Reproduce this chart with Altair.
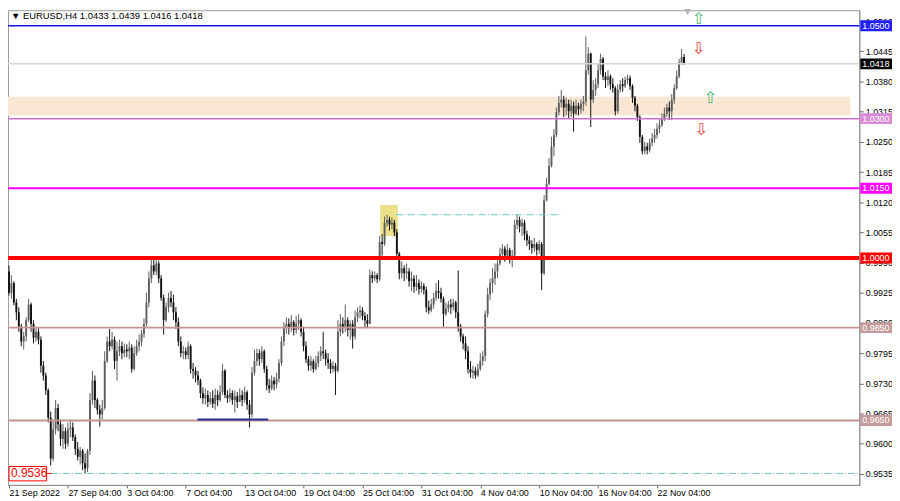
import altair as alt
import pandas as pd

# ---------------- data (EURUSD, H4) ----------------
open_first = 0.9971
close = [
    0.9925,0.9946,0.9904,0.9883,0.9852,0.9820,0.9831,0.9866,0.9900,0.9858,0.9828,0.9841,
    0.9824,0.9768,0.9747,0.9715,0.9656,0.9568,0.9631,0.9677,0.9642,0.9610,0.9627,0.9600,
    0.9631,0.9635,0.9614,0.9589,0.9572,0.9585,0.9558,0.9547,0.9585,0.9694,0.9736,0.9694,
    0.9673,0.9663,0.9677,0.9778,0.9820,0.9810,0.9824,0.9778,0.9799,0.9810,0.9795,0.9803,
    0.9799,0.9807,0.9761,0.9795,0.9810,0.9820,0.9837,0.9858,0.9904,0.9956,0.9984,0.9971,
    0.9988,0.9956,0.9914,0.9866,0.9894,0.9914,0.9904,0.9883,0.9862,0.9820,0.9795,0.9799,
    0.9791,0.9810,0.9761,0.9757,0.9747,0.9736,0.9709,0.9698,0.9705,0.9690,0.9698,0.9686,
    0.9705,0.9694,0.9711,0.9757,0.9705,0.9698,0.9709,0.9694,0.9702,0.9690,0.9705,0.9694,
    0.9711,0.9684,0.9663,0.9753,0.9778,0.9795,0.9782,0.9799,0.9761,0.9726,0.9719,0.9736,
    0.9728,0.9740,0.9774,0.9820,0.9852,0.9858,0.9849,0.9862,0.9845,0.9858,0.9866,0.9841,
    0.9810,0.9782,0.9768,0.9778,0.9761,0.9774,0.9789,0.9799,0.9795,0.9782,0.9774,0.9761,
    0.9768,0.9757,0.9841,0.9858,0.9852,0.9866,0.9845,0.9858,0.9831,0.9872,0.9883,0.9887,
    0.9875,0.9866,0.9858,0.9963,0.9956,0.9963,0.9954,1.0034,1.0030,1.0076,1.0082,1.0072,
    1.0076,1.0055,1.0009,0.9967,0.9978,0.9967,0.9971,0.9950,0.9956,0.9938,0.9946,0.9933,
    0.9940,0.9931,0.9894,0.9887,0.9900,0.9914,0.9929,0.9925,0.9912,0.9879,0.9891,0.9900,
    0.9894,0.9904,0.9883,0.9852,0.9831,0.9816,0.9799,0.9761,0.9753,0.9757,0.9747,0.9761,
    0.9778,0.9789,0.9879,0.9921,0.9946,0.9956,0.9971,0.9988,1.0009,1.0020,1.0005,1.0017,
    0.9999,1.0005,1.0072,1.0082,1.0068,1.0076,1.0051,1.0038,1.0030,1.0022,1.0030,1.0017,
    1.0030,0.9967,1.0124,1.0160,1.0198,1.0240,1.0265,1.0314,1.0334,1.0341,1.0324,1.0332,
    1.0316,1.0328,1.0311,1.0328,1.0320,1.0332,1.0337,1.0404,1.0440,1.0341,1.0362,1.0374,
    1.0404,1.0429,1.0391,1.0383,1.0391,1.0374,1.0366,1.0316,1.0362,1.0374,1.0370,1.0383,
    1.0387,1.0370,1.0345,1.0328,1.0303,1.0261,1.0230,1.0240,1.0232,1.0248,1.0257,1.0265,
    1.0278,1.0286,1.0299,1.0311,1.0324,1.0316,1.0341,1.0366,1.0391,1.0421,1.0433,1.0418,
]
high = [
    0.9984,0.9963,0.9950,0.9912,0.9894,0.9858,0.9841,0.9872,0.9912,0.9904,0.9866,0.9852,
    0.9849,0.9831,0.9778,0.9753,0.9719,0.9669,0.9652,0.9694,0.9686,0.9652,0.9642,0.9635,
    0.9646,0.9652,0.9646,0.9620,0.9604,0.9593,0.9589,0.9579,0.9589,0.9709,0.9757,0.9747,
    0.9698,0.9684,0.9694,0.9799,0.9831,0.9847,0.9841,0.9831,0.9820,0.9824,0.9820,0.9816,
    0.9814,0.9820,0.9814,0.9810,0.9824,0.9835,0.9845,0.9870,0.9925,0.9971,0.9999,0.9996,
    0.9999,0.9994,0.9963,0.9921,0.9904,0.9925,0.9929,0.9921,0.9894,0.9872,0.9831,0.9810,
    0.9807,0.9820,0.9814,0.9774,0.9765,0.9757,0.9740,0.9721,0.9719,0.9715,0.9711,0.9715,
    0.9719,0.9715,0.9726,0.9772,0.9761,0.9715,0.9719,0.9715,0.9715,0.9711,0.9719,0.9715,
    0.9723,0.9715,0.9694,0.9765,0.9803,0.9805,0.9803,0.9810,0.9803,0.9768,0.9740,0.9747,
    0.9744,0.9753,0.9782,0.9831,0.9862,0.9872,0.9870,0.9877,0.9866,0.9875,0.9879,0.9870,
    0.9852,0.9820,0.9789,0.9789,0.9782,0.9789,0.9799,0.9810,0.9841,0.9803,0.9795,0.9782,
    0.9778,0.9774,0.9866,0.9879,0.9872,0.9900,0.9872,0.9866,0.9866,0.9887,0.9894,0.9898,
    0.9894,0.9883,0.9879,0.9975,0.9971,0.9971,0.9967,1.0047,1.0051,1.0089,1.0093,1.0089,
    1.0087,1.0082,1.0062,1.0013,0.9992,0.9984,0.9988,0.9978,0.9971,0.9963,0.9963,0.9954,
    0.9950,0.9946,0.9938,0.9908,0.9912,0.9925,0.9946,0.9952,0.9936,0.9917,0.9904,0.9908,
    0.9912,0.9912,0.9908,0.9973,0.9858,0.9837,0.9831,0.9810,0.9778,0.9768,0.9765,0.9772,
    0.9795,0.9799,0.9887,0.9936,0.9956,0.9978,0.9988,0.9999,1.0022,1.0030,1.0026,1.0030,
    1.0022,1.0017,1.0082,1.0093,1.0089,1.0085,1.0082,1.0059,1.0047,1.0038,1.0043,1.0034,
    1.0038,1.0034,1.0135,1.0173,1.0215,1.0261,1.0278,1.0324,1.0349,1.0362,1.0349,1.0345,
    1.0341,1.0341,1.0337,1.0341,1.0334,1.0341,1.0349,1.0477,1.0454,1.0442,1.0383,1.0387,
    1.0418,1.0440,1.0433,1.0400,1.0404,1.0395,1.0387,1.0370,1.0374,1.0383,1.0387,1.0391,
    1.0395,1.0393,1.0374,1.0349,1.0332,1.0307,1.0265,1.0250,1.0248,1.0257,1.0269,1.0278,
    1.0290,1.0299,1.0311,1.0324,1.0332,1.0337,1.0353,1.0374,1.0404,1.0429,1.0450,1.0439,
]
low = [
    0.9919,0.9912,0.9898,0.9866,0.9841,0.9810,0.9803,0.9820,0.9862,0.9841,0.9816,0.9820,
    0.9814,0.9753,0.9736,0.9705,0.9646,0.9553,0.9562,0.9620,0.9627,0.9595,0.9589,0.9589,
    0.9593,0.9614,0.9606,0.9576,0.9564,0.9555,0.9543,0.9536,0.9539,0.9576,0.9684,0.9677,
    0.9663,0.9637,0.9652,0.9673,0.9774,0.9799,0.9803,0.9761,0.9736,0.9789,0.9782,0.9786,
    0.9786,0.9782,0.9753,0.9757,0.9789,0.9799,0.9810,0.9828,0.9852,0.9894,0.9946,0.9963,
    0.9963,0.9946,0.9908,0.9835,0.9862,0.9883,0.9894,0.9866,0.9847,0.9810,0.9786,0.9782,
    0.9782,0.9782,0.9751,0.9740,0.9732,0.9726,0.9698,0.9686,0.9684,0.9679,0.9684,0.9677,
    0.9673,0.9681,0.9690,0.9705,0.9698,0.9688,0.9690,0.9684,0.9667,0.9677,0.9690,0.9681,
    0.9688,0.9673,0.9635,0.9656,0.9747,0.9768,0.9768,0.9774,0.9753,0.9715,0.9709,0.9715,
    0.9715,0.9719,0.9732,0.9768,0.9810,0.9837,0.9835,0.9841,0.9833,0.9837,0.9845,0.9831,
    0.9799,0.9774,0.9757,0.9757,0.9753,0.9757,0.9765,0.9778,0.9782,0.9768,0.9761,0.9751,
    0.9753,0.9705,0.9753,0.9831,0.9837,0.9841,0.9831,0.9824,0.9805,0.9824,0.9862,0.9870,
    0.9866,0.9852,0.9849,0.9858,0.9946,0.9950,0.9946,0.9950,1.0005,1.0026,1.0068,1.0059,
    1.0062,1.0047,1.0001,0.9954,0.9956,0.9950,0.9954,0.9938,0.9929,0.9925,0.9929,0.9921,
    0.9925,0.9921,0.9883,0.9879,0.9883,0.9891,0.9908,0.9912,0.9904,0.9852,0.9875,0.9883,
    0.9879,0.9887,0.9870,0.9841,0.9820,0.9803,0.9782,0.9751,0.9742,0.9740,0.9740,0.9744,
    0.9757,0.9768,0.9778,0.9872,0.9910,0.9925,0.9942,0.9956,0.9984,0.9996,0.9992,0.9999,
    0.9988,0.9980,0.9999,1.0062,1.0055,1.0047,1.0038,1.0026,1.0017,1.0009,1.0013,1.0005,
    1.0009,0.9931,0.9963,1.0122,1.0156,1.0195,1.0219,1.0260,1.0307,1.0324,1.0303,1.0307,
    1.0299,1.0303,1.0272,1.0307,1.0307,1.0311,1.0316,1.0328,1.0395,1.0282,1.0334,1.0349,
    1.0366,1.0395,1.0383,1.0366,1.0370,1.0362,1.0356,1.0307,1.0311,1.0356,1.0358,1.0366,
    1.0374,1.0362,1.0334,1.0316,1.0295,1.0248,1.0223,1.0223,1.0223,1.0227,1.0240,1.0248,
    1.0257,1.0269,1.0282,1.0295,1.0303,1.0297,1.0297,1.0332,1.0362,1.0387,1.0416,1.0416,
]

x_labels = ["21 Sep 2022", "27 Sep 04:00", "3 Oct 04:00", "7 Oct 04:00", "13 Oct 04:00",
            "19 Oct 04:00", "25 Oct 04:00", "31 Oct 04:00", "4 Nov 04:00", "10 Nov 04:00",
            "16 Nov 04:00", "22 Nov 04:00"]
x_label_bars = [0, 24, 48, 72, 96, 120, 144, 168, 192, 216, 240, 264]
y_ticks = [1.0510, 1.0445, 1.0380, 1.0315, 1.0250, 1.0185, 1.0120, 1.0055, 0.9990,
           0.9925, 0.9860, 0.9795, 0.9730, 0.9665, 0.9600, 0.9535]

level_prices = [1.0500, 1.0418, 1.0300, 1.0150, 1.0000, 0.9850, 0.9650]
level_labels = ["1.0500", "1.0418", "1.0300", "1.0150", "1.0000", "0.9850", "0.9650"]
level_colors = ["#1414e6", "#d4d4d4", "#d070d0", "#ff00ff", "#ff0000", "#c39393", "#c39393"]
level_widths = [1.5, 1.5, 1.5, 2, 4, 2, 2]
box_colors = ["#1e1eff", "#000000", "#d98ad9", "#ff00ff", "#ff0000", "#c49a9a", "#c49a9a"]

zone_lo, zone_hi = 1.0307, 1.0347
title_text = "\u25bc EURUSD,H4  1.0433 1.0439 1.0416 1.0418"

# ---------------- chart ----------------
W, H = 859, 479
FONT = "Liberation Sans"

n = len(close)
opens = [open_first] + close[:-1]
bars = pd.DataFrame({"bar": list(range(n)), "open": opens, "high": high,
                     "low": low, "close": close})
bars["dir"] = ["up" if c >= o else "down" for o, c in zip(opens, close)]

xs = alt.Scale(domain=[-0.4, 346.4], nice=False, zero=False)
ys = alt.Scale(domain=[0.95113, 1.05335], nice=False, zero=False)
lab_expr = "[" + ",".join("'%s'" % s for s in x_labels) + "][round(datum.value / 24)]"
xaxis = alt.Axis(values=x_label_bars, labelExpr=lab_expr, orient="bottom", title=None,
                 grid=False, labelAlign="left", labelBaseline="top", tickSize=3,
                 labelPadding=1, labelFont=FONT, labelFontSize=9, labelColor="#000000",
                 tickColor="#666666", domainColor="#8c8c8c", labelFlush=False,
                 labelOverlap=False)
yaxis = alt.Axis(values=y_ticks, format=".4f", orient="right", title=None, grid=False,
                 tickSize=4, labelPadding=2, labelFont=FONT, labelFontSize=9,
                 labelColor="#000000", tickColor="#666666", domainColor="#8c8c8c",
                 labelFlush=False, labelOverlap=False)


def X(f):
    return alt.X(f, type="quantitative", scale=xs, axis=xaxis)


def Y(f):
    return alt.Y(f, type="quantitative", scale=ys, axis=yaxis)


zone = alt.Chart(pd.DataFrame({"x1": [-0.4], "x2": [342.8], "lo": [zone_lo], "hi": [zone_hi]})
                 ).mark_rect(color="#f9e7d4").encode(x=X("x1"), x2="x2", y=Y("lo"), y2="hi")

yellow = alt.Chart(pd.DataFrame({"x1": [151.2], "x2": [158.4], "lo": [1.0047], "hi": [1.0114]})
                   ).mark_rect(color="#ece28c").encode(x=X("x1"), x2="x2", y=Y("lo"), y2="hi")

wicks = alt.Chart(bars).mark_rule(strokeWidth=1).encode(
    x=X("bar"), y=Y("low"), y2="high",
    color=alt.Color("dir:N", scale=alt.Scale(domain=["up", "down"], range=["#5e5e5e", "#111111"]),
                    legend=None))
bodies = alt.Chart(bars).mark_rule(strokeWidth=1.9).encode(
    x=X("bar"), y=Y("open"), y2="close",
    color=alt.Color("dir:N", scale=alt.Scale(domain=["up", "down"], range=["#9c9c9c", "#000000"]),
                    legend=None))

levels = pd.DataFrame({"p": level_prices, "col": level_colors, "w": level_widths,
                       "label": level_labels, "bg": box_colors})
level_lines = alt.Chart(levels).mark_rule().encode(
    y=Y("p"), x=alt.value(0), x2=alt.value(W),
    color=alt.Color("col:N", scale=None),
    strokeWidth=alt.StrokeWidth("w:Q", scale=None))

dashes = pd.DataFrame({"x1": [157.6, 17.2], "x2": [224.8, 346.0], "p": [1.0093, 0.9536]})
dash_lines = alt.Chart(dashes).mark_rule(color="#6cc4c4", strokeWidth=1,
                                         strokeDash=[7, 2, 1, 2]).encode(
    x=X("x1"), x2="x2", y=Y("p"))

navy = alt.Chart(pd.DataFrame({"x1": [76.8], "x2": [105.6], "p": [0.9652]})
                 ).mark_rule(color="#2e2e9e", strokeWidth=2).encode(x=X("x1"), x2="x2", y=Y("p"))

boxes = alt.Chart(levels).mark_rule(strokeWidth=11, strokeCap="butt").encode(
    y=Y("p"), x=alt.value(W + 1), x2=alt.value(W + 34),
    color=alt.Color("bg:N", scale=None))
box_text = alt.Chart(levels).mark_text(align="left", baseline="middle", font=FONT,
                                       fontSize=9, color="#ffffff").encode(
    y=Y("p"), x=alt.value(W + 3), text="label:N")

arrows = pd.DataFrame({"bar": [280.8, 280.8, 285.6, 282.0],
                       "p": [1.0514, 1.0449, 1.0345, 1.0275],
                       "glyph": ["\u21e7", "\u21e9", "\u21e7", "\u21e9"],
                       "col": ["#3fb871", "#e03c3c", "#3fb871", "#e03c3c"]})
arrow_marks = alt.Chart(arrows).mark_text(font="DejaVu Sans", fontSize=16,
                                          baseline="middle").encode(
    x=X("bar"), y=Y("p"), text="glyph:N", color=alt.Color("col:N", scale=None))

marker = alt.Chart(pd.DataFrame({"bar": [276.4], "p": [1.0530], "t": ["\u25bc"]})
                   ).mark_text(font="DejaVu Sans", fontSize=8, color="#b0b0b0").encode(
    x=X("bar"), y=Y("p"), text="t:N")

title = alt.Chart(pd.DataFrame({"t": [title_text]})).mark_text(
    align="left", baseline="middle", font=FONT, fontSize=9.5, color="#000000").encode(
    x=alt.value(3), y=alt.value(6), text="t:N")

low_lab = pd.DataFrame({"p": [0.9536], "lo": [0.9520], "hi": [0.9551], "t": ["0.9536"]})
low_box = alt.Chart(low_lab).mark_rect(fill="#ffffff", stroke="#ff0000", strokeWidth=1).encode(
    y=Y("lo"), y2="hi", x=alt.value(1), x2=alt.value(39))
low_tick = alt.Chart(low_lab).mark_rule(color="#ff0000", strokeWidth=1).encode(
    y=Y("p"), x=alt.value(39), x2=alt.value(44))
low_text = alt.Chart(low_lab).mark_text(align="left", baseline="middle", font=FONT,
                                        fontSize=12, color="#ff0000").encode(
    y=Y("p"), x=alt.value(3), text="t:N")

chart = alt.layer(
    zone, yellow, wicks, bodies, level_lines, dash_lines, navy,
    boxes, box_text, arrow_marks, marker, title, low_box, low_tick, low_text
).properties(
    width=W, height=H,
    autosize=alt.AutoSizeParams(type="none"),
    padding={"left": 0, "top": 0, "right": 33, "bottom": 14},
).configure(background="#ffffff").configure_view(stroke="#9a9a9a", strokeWidth=1)

chart.save("out.html", embed_options={"renderer": "svg", "actions": False})
